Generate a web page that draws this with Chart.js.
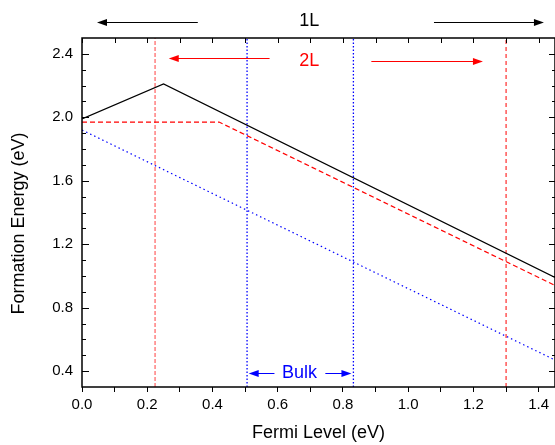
<!DOCTYPE html>
<html>
<head>
<meta charset="utf-8">
<script src="https://cdn.jsdelivr.net/npm/chart.js@4.4.0/dist/chart.umd.min.js"></script>
<style>
  html, body { margin: 0; padding: 0; background: #fff; }
  canvas { display: block; }
</style>
</head>
<body>
<canvas id="formationChart" width="555" height="445"></canvas>
<script>
  // formation energy vs Fermi level
  var fermi1L = [0, 0.25, 1.45];
  var energy1L = [1.99, 2.21, 0.99];
  var fermi2L = [0, 0.42, 1.45];
  var energy2L = [1.97, 1.97, 0.94];
  var fermiBulk = [0, 1.45];
  var energyBulk = [1.92, 0.47];

  // vertical guide lines (Fermi level)
  var guide2L = [0.224, 1.30];
  var guideBulk = [0.506, 0.832];

  var xTickValues = [0, 0.1, 0.2, 0.3, 0.4, 0.5, 0.6, 0.7, 0.8, 0.9, 1.0, 1.1, 1.2, 1.3, 1.4];
  var xTickLabels = ["0.0", "", "0.2", "", "0.4", "", "0.6", "", "0.8", "", "1.0", "", "1.2", "", "1.4"];
  var yTickValues = [0.4, 0.5, 0.6, 0.7, 0.8, 0.9, 1.0, 1.1, 1.2, 1.3, 1.4, 1.5, 1.6, 1.7, 1.8, 1.9, 2.0, 2.1, 2.2, 2.3, 2.4];
  var yTickLabels = ["0.4", "", "", "", "0.8", "", "", "", "1.2", "", "", "", "1.6", "", "", "", "2.0", "", "", "", "2.4"];

  // annotations in data units: [x from, x to, y]
  var arrows = [
    { from: 0.355, to: 0.046, y: 2.604, color: "#000" },
    { from: 1.079, to: 1.416, y: 2.604, color: "#000" },
    { from: 0.575, to: 0.266, y: 2.377, color: "#ff0000" },
    { from: 0.887, to: 1.229, y: 2.352, color: "#ff0000" },
    { from: 0.590, to: 0.511, y: 0.387, color: "#0000ff" },
    { from: 0.746, to: 0.826, y: 0.387, color: "#0000ff" }
  ];
  var labels = [
    { text: "1L", x: 0.697, y: 2.604, color: "#000" },
    { text: "2L", x: 0.697, y: 2.352, color: "#ff0000" },
    { text: "Bulk", x: 0.667, y: 0.387, color: "#0000ff" }
  ];
  var yTitle = "Formation Energy (eV)";

  function pts(xs, ys) {
    return xs.map(function (v, i) { return { x: v, y: ys[i] }; });
  }
  function vline(v) {
    return [{ x: v, y: 0.3 }, { x: v, y: 2.5 }];
  }

  var frameTicks = {
    id: "frameTicks",
    afterDatasetsDraw: function (chart) {
      var ctx = chart.ctx, a = chart.chartArea;
      var x = chart.scales.x, y = chart.scales.y;
      ctx.save();
      ctx.strokeStyle = "#000";
      ctx.lineWidth = 1;
      ctx.beginPath();
      xTickValues.forEach(function (v) {
        var px = Math.round(x.getPixelForValue(v)) + 0.5;
        ctx.moveTo(px, a.top);
        ctx.lineTo(px, a.top + 5);
      });
      yTickValues.forEach(function (v, i) {
        var py = Math.round(y.getPixelForValue(v)) + 0.5;
        var major = yTickLabels[i] !== "";
        ctx.moveTo(a.left, py);
        ctx.lineTo(a.left + (major ? 7 : 4), py);
        ctx.moveTo(a.right, py);
        ctx.lineTo(a.right - (major ? 6 : 3), py);
      });
      ctx.stroke();
      ctx.lineWidth = 1.5;
      ctx.strokeRect(a.left, a.top, a.right - a.left, a.bottom - a.top);
      ctx.restore();
    }
  };

  var notes = {
    id: "notes",
    afterDraw: function (chart) {
      var ctx = chart.ctx;
      var x = chart.scales.x, y = chart.scales.y;
      ctx.save();
      arrows.forEach(function (ar) {
        var x0 = x.getPixelForValue(ar.from);
        var x1 = x.getPixelForValue(ar.to);
        var py = Math.round(y.getPixelForValue(ar.y)) + 0.5;
        var dir = x1 > x0 ? 1 : -1;
        ctx.strokeStyle = ar.color;
        ctx.fillStyle = ar.color;
        ctx.lineWidth = 1;
        ctx.beginPath();
        ctx.moveTo(x0, py);
        ctx.lineTo(x1 - dir * 6, py);
        ctx.stroke();
        ctx.beginPath();
        ctx.moveTo(x1, py);
        ctx.lineTo(x1 - dir * 10, py - 3.5);
        ctx.lineTo(x1 - dir * 10, py + 3.5);
        ctx.closePath();
        ctx.fill();
      });
      ctx.font = "18px Arial, 'Liberation Sans', sans-serif";
      ctx.textAlign = "center";
      ctx.textBaseline = "middle";
      labels.forEach(function (lb) {
        ctx.fillStyle = lb.color;
        ctx.fillText(lb.text, x.getPixelForValue(lb.x), y.getPixelForValue(lb.y));
      });
      // y axis title, sits a little below the plot centre in the original
      ctx.fillStyle = "#000";
      ctx.translate(19, (chart.chartArea.top + chart.chartArea.bottom) / 2 + 11);
      ctx.rotate(-Math.PI / 2);
      ctx.fillText(yTitle, 0, 0);
      ctx.restore();
    }
  };

  Chart.defaults.font.family = "Arial, 'Liberation Sans', sans-serif";
  Chart.defaults.color = "#000";

  new Chart(document.getElementById("formationChart"), {
    type: "scatter",
    data: {
      datasets: [
        {
          label: "1L",
          data: pts(fermi1L, energy1L),
          showLine: true,
          borderColor: "#000",
          borderWidth: 1.2,
          pointRadius: 0
        },
        {
          label: "2L",
          data: pts(fermi2L, energy2L),
          showLine: true,
          borderColor: "#ff0000",
          borderWidth: 1.2,
          borderDash: [5, 3],
          pointRadius: 0
        },
        {
          label: "Bulk",
          data: pts(fermiBulk, energyBulk),
          showLine: true,
          borderColor: "#0000ff",
          borderWidth: 1.2,
          borderDash: [1.5, 3],
          pointRadius: 0
        },
        {
          label: "2L edge",
          data: vline(guide2L[0]),
          showLine: true,
          borderColor: "rgba(255,0,0,0.5)",
          borderWidth: 1.5,
          borderDash: [4, 2],
          pointRadius: 0
        },
        {
          label: "2L edge 2",
          data: vline(guide2L[1]),
          showLine: true,
          borderColor: "#ff0000",
          borderWidth: 1,
          borderDash: [4, 3],
          pointRadius: 0
        },
        {
          label: "Bulk edge",
          data: vline(guideBulk[0]),
          showLine: true,
          borderColor: "#0000ff",
          borderWidth: 1.3,
          borderDash: [1.5, 2],
          pointRadius: 0
        },
        {
          label: "Bulk edge 2",
          data: vline(guideBulk[1]),
          showLine: true,
          borderColor: "#0000ff",
          borderWidth: 1.3,
          borderDash: [1.5, 2],
          pointRadius: 0
        }
      ]
    },
    options: {
      responsive: false,
      animation: false,
      layout: { padding: { top: 38, right: 0, left: 0, bottom: 0 } },
      plugins: { legend: { display: false }, tooltip: { enabled: false } },
      scales: {
        x: {
          type: "linear",
          min: 0,
          max: 1.45,
          afterBuildTicks: function (s) {
            s.ticks = xTickValues.map(function (v) { return { value: v }; });
          },
          afterFit: function (s) { s.height = 58; },
          ticks: {
            padding: 4,
            font: { size: 15 },
            callback: function (v, i) { return xTickLabels[i]; }
          },
          grid: {
            display: true,
            drawOnChartArea: false,
            drawTicks: true,
            tickLength: 5,
            color: "#000",
            lineWidth: 1
          },
          border: { display: false },
          title: {
            display: true,
            text: "Fermi Level (eV)",
            font: { size: 18 },
            padding: { top: 0, bottom: 1 }
          }
        },
        y: {
          type: "linear",
          min: 0.3,
          max: 2.5,
          afterBuildTicks: function (s) {
            s.ticks = yTickValues.map(function (v) { return { value: v }; });
          },
          afterFit: function (s) { s.width = 82; },
          ticks: {
            padding: 9,
            font: { size: 15 },
            callback: function (v, i) { return yTickLabels[i]; }
          },
          grid: { display: false, drawTicks: false },
          border: { display: false },
          title: { display: false }
        }
      }
    },
    plugins: [frameTicks, notes]
  });
</script>
</body>
</html>
